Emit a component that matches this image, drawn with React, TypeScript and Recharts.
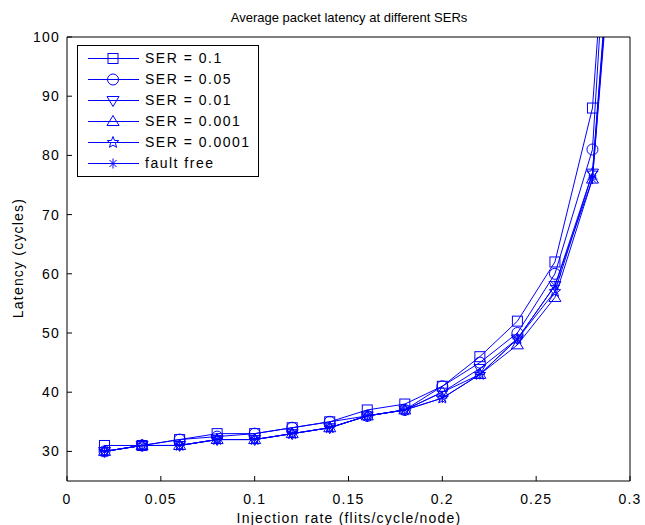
import { LineChart, Line, XAxis, YAxis } from "recharts";

const rates = [0.02, 0.04, 0.06, 0.08, 0.1, 0.12, 0.14, 0.16, 0.18, 0.2, 0.22, 0.24, 0.26, 0.28, 0.3];

const ser01 = [31, 31, 32, 33, 33, 34, 35, 37, 38, 41, 46, 52, 62, 88, 176];
const ser005 = [30, 31, 32, 32.5, 33, 34, 35, 36, 37, 41, 45, 50, 60, 81, 182];
const ser001 = [30, 31, 31, 32, 32, 33, 34, 36, 37, 40, 44, 49, 58, 77, 160];
const ser0001 = [30, 31, 31, 32, 32, 33, 34, 36, 37, 40, 43, 48, 56, 76, 158];
const ser00001 = [30, 31, 31, 32, 32, 33, 34, 36, 37, 39, 43, 49, 57, 77, 156];
const faultFree = [30, 31, 31, 32, 32, 33, 34, 36, 37, 39, 43, 49, 58, 76, 154];

const xTicks = [0, 0.05, 0.1, 0.15, 0.2, 0.25, 0.3];
const yTicks = [30, 40, 50, 60, 70, 80, 90, 100];

const series = [
  { key: "s1", name: "SER = 0.1", values: ser01, marker: "square" },
  { key: "s2", name: "SER = 0.05", values: ser005, marker: "circle" },
  { key: "s3", name: "SER = 0.01", values: ser001, marker: "down" },
  { key: "s4", name: "SER = 0.001", values: ser0001, marker: "up" },
  { key: "s5", name: "SER = 0.0001", values: ser00001, marker: "star" },
  { key: "s6", name: "fault free", values: faultFree, marker: "asterisk" },
];

const data = rates.map((r, i) => {
  const row: Record<string, number> = { rate: r };
  series.forEach((s) => (row[s.key] = s.values[i]));
  return row;
});

const BLUE = "#0000ff";
const FONT = "'Liberation Sans', Arial, sans-serif";
const SPACING = "1.2px";

const Marker = ({ cx, cy, type }: { cx: number; cy: number; type: string }) => {
  const p = { fill: "none", stroke: BLUE, strokeWidth: 1 };
  if (type === "square") return <rect x={cx - 5} y={cy - 5} width={10} height={10} {...p} />;
  if (type === "circle") return <circle cx={cx} cy={cy} r={5.5} {...p} />;
  if (type === "down")
    return <polygon points={`${cx - 6},${cy - 4} ${cx + 6},${cy - 4} ${cx},${cy + 6}`} {...p} />;
  if (type === "up")
    return <polygon points={`${cx - 6},${cy + 4} ${cx + 6},${cy + 4} ${cx},${cy - 6}`} {...p} />;
  if (type === "star") {
    const pts: string[] = [];
    for (let k = 0; k < 10; k++) {
      const r = k % 2 === 0 ? 6 : 2.6;
      const a = -Math.PI / 2 + (k * Math.PI) / 5;
      pts.push(`${cx + r * Math.cos(a)},${cy + r * Math.sin(a)}`);
    }
    return <polygon points={pts.join(" ")} {...p} />;
  }
  return (
    <g {...p}>
      <line x1={cx - 5} y1={cy} x2={cx + 5} y2={cy} />
      <line x1={cx} y1={cy - 5} x2={cx} y2={cy + 5} />
      <line x1={cx - 3.5} y1={cy - 3.5} x2={cx + 3.5} y2={cy + 3.5} />
      <line x1={cx - 3.5} y1={cy + 3.5} x2={cx + 3.5} y2={cy - 3.5} />
    </g>
  );
};

const LegendBox = () => (
  <div
    style={{
      position: "absolute",
      left: 77,
      top: 45,
      border: "1px solid #000",
      background: "#fff",
      padding: "2px 7px 2px 9px",
      fontFamily: FONT,
      fontSize: 14,
      letterSpacing: "1.5px",
      lineHeight: "21px",
    }}
  >
    {series.map((s) => (
      <div key={s.key} style={{ display: "flex", alignItems: "center", whiteSpace: "nowrap", height: 21 }}>
        <svg width={58} height={21}>
          <line x1={1} y1={10.5} x2={52} y2={10.5} stroke={BLUE} strokeWidth={1} />
          <Marker cx={26} cy={10.5} type={s.marker} />
        </svg>
        <span style={{ color: "#000" }}>{s.name}</span>
      </div>
    ))}
  </div>
);

export default function App() {
  return (
    <div style={{ position: "absolute", left: 0, top: 0, width: 645, height: 525, background: "#fff" }}>
      <LineChart
        width={645}
        height={525}
        data={data}
        margin={{ top: 36, right: 0, bottom: 0, left: 17 }}
        style={{ fontFamily: FONT }}
      >
        <XAxis
          dataKey="rate"
          type="number"
          domain={[0, 0.3]}
          ticks={xTicks}
          allowDataOverflow
          height={44}
          tickSize={-5}
          tickMargin={18}
          stroke="#000"
          tick={{ fill: "#000", fontSize: 14, letterSpacing: SPACING }}
          label={{
            content: () => (
              <text
                x={349}
                y={523}
                textAnchor="middle"
                fontSize={14}
                fill="#000"
                fontFamily={FONT}
                letterSpacing={SPACING}
              >
                Injection rate (flits/cycle/node)
              </text>
            ),
          }}
        />
        <XAxis
          xAxisId="top"
          orientation="top"
          dataKey="rate"
          type="number"
          domain={[0, 0.3]}
          ticks={xTicks}
          height={1}
          tickSize={-5}
          tick={false}
          stroke="#000"
          label={{
            content: () => (
              <text x={349} y={22} textAnchor="middle" fontSize={13} fill="#000" fontFamily={FONT}>
                Average packet latency at different SERs
              </text>
            ),
          }}
        />
        <YAxis
          type="number"
          domain={[25, 100]}
          ticks={yTicks}
          allowDataOverflow
          width={50}
          tickSize={-5}
          tickMargin={12}
          stroke="#000"
          tick={{ fill: "#000", fontSize: 14, letterSpacing: SPACING }}
          label={{
            content: () => (
              <text
                x={23}
                y={258}
                transform="rotate(-90 23 258)"
                textAnchor="middle"
                fontSize={14}
                fill="#000"
                fontFamily={FONT}
                letterSpacing={SPACING}
              >
                Latency (cycles)
              </text>
            ),
          }}
        />
        <YAxis
          yAxisId="right"
          orientation="right"
          type="number"
          domain={[25, 100]}
          ticks={yTicks}
          allowDataOverflow
          width={15}
          tickSize={-5}
          tick={false}
          stroke="#000"
        />
        {series.map((s) => (
          <Line
            key={s.key}
            dataKey={s.key}
            name={s.name}
            type="linear"
            stroke={BLUE}
            strokeWidth={1}
            isAnimationActive={false}
            dot={(props: any) => <Marker key={`${s.key}-${props.index}`} cx={props.cx} cy={props.cy} type={s.marker} />}
            activeDot={false}
          />
        ))}
        <Line
          xAxisId="top"
          yAxisId="right"
          dataKey="s6"
          stroke="none"
          dot={false}
          activeDot={false}
          legendType="none"
          isAnimationActive={false}
        />
      </LineChart>
      <LegendBox />
    </div>
  );
}
